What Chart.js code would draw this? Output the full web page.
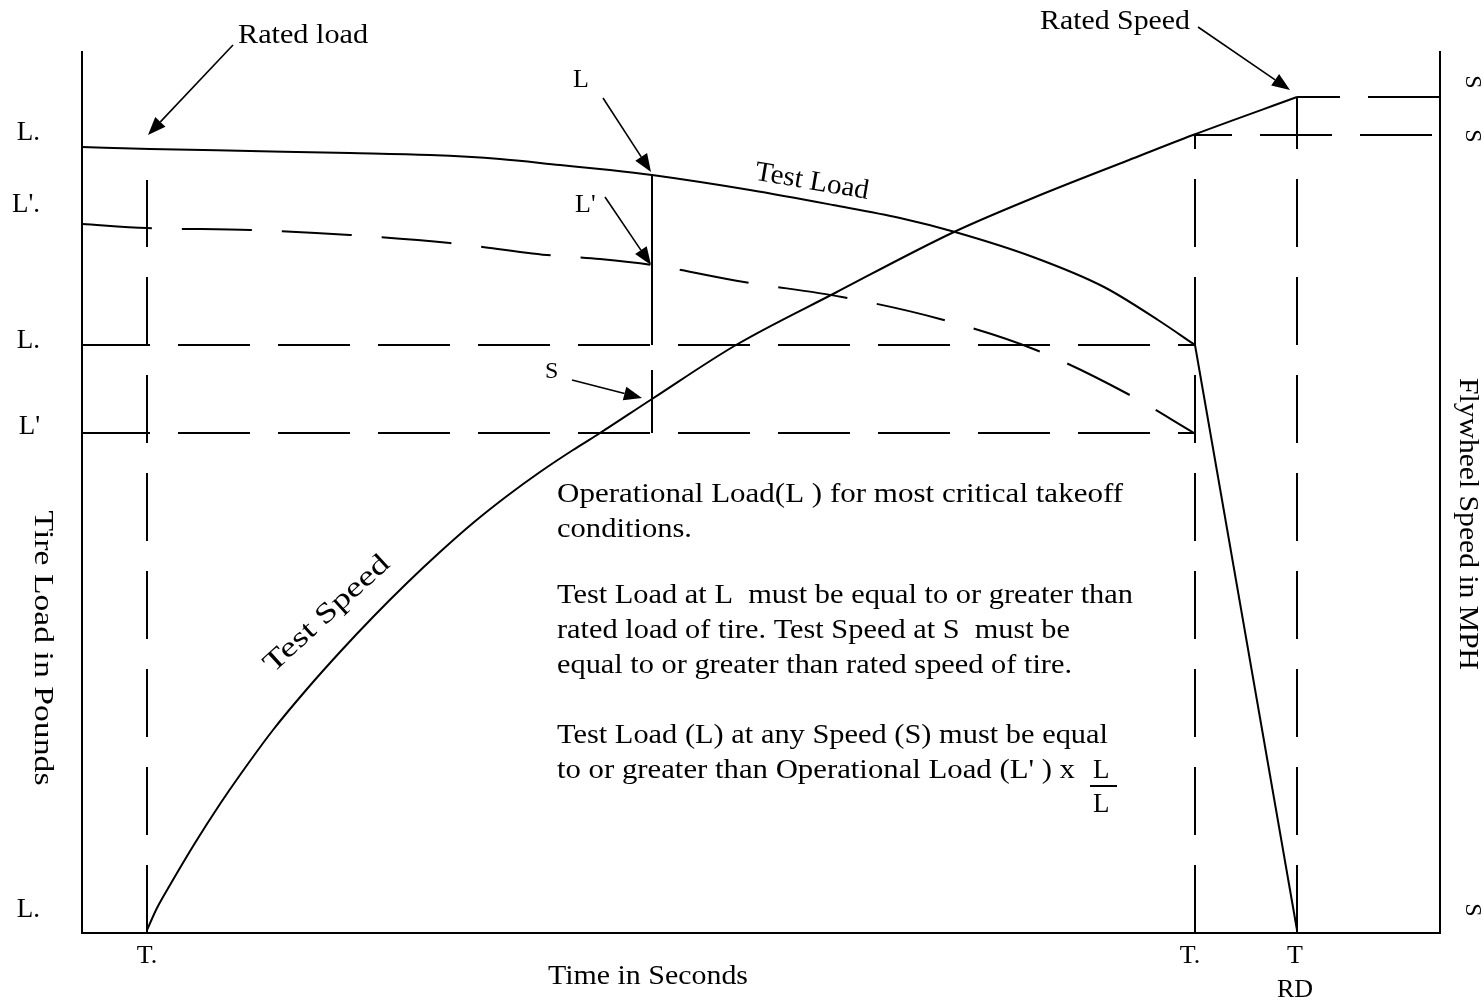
<!DOCTYPE html>
<html><head><meta charset="utf-8">
<script src="https://cdn.jsdelivr.net/npm/chart.js@4.4.1/dist/chart.umd.min.js"></script>
<style>html,body{margin:0;padding:0;background:#fff;}canvas{display:block;}</style>
</head><body>
<canvas id="c" width="1484" height="1005"></canvas>
<script>
// ---- data (time units along x, load / speed units along y) ----
const timeMax = 1358;
const valueMax = 881;

const testLoadTime  = [0, 68, 168, 268, 348, 418, 478, 528, 570, 668, 751, 818, 873, 951, 1022, 1076, 1113];
const testLoadValue = [786, 784, 782, 780, 778, 774, 768, 763, 758, 743, 728, 715, 701, 676, 646, 613, 588];
const dropTime  = [1113, 1215];
const dropValue = [588, 3];

const opLoadTime  = [0, 65, 168, 268, 368, 465, 518, 570, 662, 760, 858, 954, 1044, 1112];
const opLoadValue = [709, 705, 703, 698, 690, 678, 674, 668, 651, 636, 614, 583, 540, 500];

const testSpeedTime  = [65, 75, 88, 113, 138, 158, 191, 225, 258, 291, 325, 358, 391, 425, 458, 491, 515, 570, 654, 753, 872, 951, 1047, 1111, 1215];
const testSpeedValue = [3, 25, 48, 90, 129, 158, 203, 244, 281, 316, 350, 381, 410, 437, 461, 483, 498, 534, 588, 640, 701, 735, 773, 798, 836];

const tStart = 65, tEnd = 1113, tRD = 1215, tCheck = 570;
const loadL = 588, loadLp = 500, loadAtCheck = 758, speedAtCheckTop = 563;
const speedRated = 836, speedEnd = 798;

const loadTickValues = [800, 728, 592, 506, 23];
const loadTickLabels = ['L.', "L'.", 'L.', "L'", 'L.'];
const timeTickValues = [65, 1108, 1213];
const timeTickLabels = ['T.', 'T.', ['T', 'RD']];
const speedTickValues = [851, 797, 23];
const speedTickLabels = ['S', 'S', 'S'];

// arrows: [fromTime, fromValue, toTime, toValue]
const arrowRatedLoad  = [151, 888, 66, 798];
const arrowL          = [521, 835, 569, 761];
const arrowLp         = [523, 736, 569, 668];
const arrowS          = [490, 553, 560, 535];
const arrowRatedSpeed = [1116, 906, 1208, 843];

const pts = (xs, ys) => xs.map((x, i) => ({x: x, y: ys[i]}));
const FONT = '"Liberation Serif", "DejaVu Serif", serif';

const base = {showLine: true, pointRadius: 0, borderColor: '#000', borderWidth: 2, fill: false, tension: 0, yAxisID: 'y'};
const dashV = [68, 30];
const dashH = [72, 28];

const datasets = [
  Object.assign({}, base, {label: 'Test Load', data: pts(testLoadTime, testLoadValue), cubicInterpolationMode: 'monotone'}),
  Object.assign({}, base, {label: 'Test Load drop', data: pts(dropTime, dropValue)}),
  Object.assign({}, base, {label: 'Operational Load', data: pts(opLoadTime, opLoadValue), cubicInterpolationMode: 'monotone', borderDash: [70, 30]}),
  Object.assign({}, base, {label: 'Test Speed', data: pts(testSpeedTime, testSpeedValue), cubicInterpolationMode: 'monotone', yAxisID: 'y2'}),
  Object.assign({}, base, {label: 'T start', data: pts([tStart, tStart], [0, 753]), borderDash: dashV}),
  Object.assign({}, base, {label: 'T end', data: pts([tEnd, tEnd], [0, speedEnd]), borderDash: dashV}),
  Object.assign({}, base, {label: 'T RD', data: pts([tRD, tRD], [0, speedRated]), borderDash: dashV}),
  Object.assign({}, base, {label: 'L', data: pts([0, tEnd], [loadL, loadL]), borderDash: dashH, borderDashOffset: 4}),
  Object.assign({}, base, {label: "L'", data: pts([0, tEnd], [loadLp, loadLp]), borderDash: dashH, borderDashOffset: 4}),
  Object.assign({}, base, {label: 'S rated', data: pts([tRD, timeMax], [speedRated, speedRated]), borderDash: dashH, borderDashOffset: 29, yAxisID: 'y2'}),
  Object.assign({}, base, {label: 'S end', data: pts([tEnd, timeMax], [speedEnd, speedEnd]), borderDash: dashH, borderDashOffset: 35, yAxisID: 'y2'}),
  Object.assign({}, base, {label: 'check L', data: pts([tCheck, tCheck], [loadL, loadAtCheck])}),
  Object.assign({}, base, {label: 'check S', data: pts([tCheck, tCheck], [loadLp, speedAtCheckTop])})
];

const annot = {
  id: 'annot',
  afterDraw(chart) {
    const ctx = chart.ctx, sx = chart.scales.x, sy = chart.scales.y, sy2 = chart.scales.y2;
    ctx.save();
    ctx.fillStyle = '#000'; ctx.strokeStyle = '#000';
    [arrowRatedLoad, arrowL, arrowLp, arrowS, arrowRatedSpeed].forEach(a => {
      const x1 = sx.getPixelForValue(a[0]), y1 = sy.getPixelForValue(a[1]);
      const x2 = sx.getPixelForValue(a[2]), y2 = sy.getPixelForValue(a[3]);
      const ang = Math.atan2(y2 - y1, x2 - x1), L = 18, W = 7;
      const bx = x2 - L * Math.cos(ang), by = y2 - L * Math.sin(ang);
      ctx.lineWidth = 1.6;
      ctx.beginPath(); ctx.moveTo(x1, y1); ctx.lineTo(bx, by); ctx.stroke();
      ctx.beginPath(); ctx.moveTo(x2, y2);
      ctx.lineTo(bx + W * Math.sin(ang), by - W * Math.cos(ang));
      ctx.lineTo(bx - W * Math.sin(ang), by + W * Math.cos(ang));
      ctx.closePath(); ctx.fill();
    });
    // text helper; tw = target width (horizontal stretch to match the original lettering)
    const txt = (s, x, y, size, align, rot, tw) => {
      ctx.save();
      ctx.font = size + 'px ' + FONT;
      ctx.textAlign = align || 'left';
      ctx.textBaseline = rot !== undefined ? 'middle' : 'alphabetic';
      ctx.translate(x, y);
      if (rot) ctx.rotate(rot);
      if (tw) { const w = ctx.measureText(s).width; ctx.scale(tw / w, 1); }
      ctx.fillText(s, 0, 0);
      ctx.restore();
    };
    txt('Rated load', 238, 43, 28, 'left', undefined, 130);
    txt('Rated Speed', 1040, 29, 28, 'left', undefined, 150);
    txt('L', 573, 87, 26);
    txt("L'", 575, 212, 26);
    txt('S', 545, 378, 24);
    txt('Test Load', 812, 182, 28, 'center', 0.17, 115);
    txt('Test Speed', 327, 614, 28, 'center', -0.74, 160);
    const para = [
      ['Operational Load(L ) for most critical takeoff', 502, 566],
      ['conditions.', 537, 135],
      ['Test Load at L  must be equal to or greater than', 603, 576],
      ['rated load of tire. Test Speed at S  must be', 638, 513],
      ['equal to or greater than rated speed of tire.', 673, 515],
      ['Test Load (L) at any Speed (S) must be equal', 743, 551],
      ["to or greater than Operational Load (L' ) x", 778, 518]
    ];
    para.forEach(p => txt(p[0], 557, p[1], 27, 'left', undefined, p[2]));
    txt('L', 1093, 778, 27);
    txt('L', 1093, 812, 27);
    ctx.lineWidth = 2; ctx.beginPath(); ctx.moveTo(1090, 786); ctx.lineTo(1117, 786); ctx.stroke();
    txt('Time in Seconds', 648, 984, 28, 'center', undefined, 200);
    txt('Tire Load in Pounds', 42, 648, 27, 'center', Math.PI / 2, 275);
    txt('Flywheel Speed in MPH', 1467, 524, 27, 'center', Math.PI / 2, 292);
    sy2.ticks.forEach((t, i) => {
      txt(speedTickLabels[i], 1472, sy2.getPixelForValue(t.value), 24, 'center', Math.PI / 2);
    });
    ctx.restore();
  }
};

const noPad = s => { s.paddingTop = 0; s.paddingBottom = 0; s.paddingLeft = 0; s.paddingRight = 0; };

new Chart(document.getElementById('c'), {
  type: 'scatter',
  data: {datasets: datasets},
  plugins: [annot],
  options: {
    responsive: false, animation: false, devicePixelRatio: 1,
    layout: {padding: {top: 52, left: 0, right: 0, bottom: 0}},
    plugins: {legend: {display: false}, tooltip: {enabled: false}},
    scales: {
      x: {
        type: 'linear', position: 'bottom', min: 0, max: timeMax,
        grid: {display: false, drawTicks: false},
        border: {display: true, color: '#000', width: 2},
        afterBuildTicks: s => { s.ticks = timeTickValues.map(v => ({value: v})); },
        afterFit: s => { s.height = 72; noPad(s); },
        ticks: {autoSkip: false, maxRotation: 0, minRotation: 0, padding: 6, color: '#000',
          font: {family: FONT, size: 26, lineHeight: 1.3},
          callback: (v, i) => timeTickLabels[i]}
      },
      y: {
        type: 'linear', position: 'left', min: 0, max: valueMax,
        grid: {display: false, drawTicks: false},
        border: {display: true, color: '#000', width: 2},
        afterBuildTicks: s => { s.ticks = loadTickValues.map(v => ({value: v})); },
        afterFit: s => { s.width = 82; noPad(s); },
        ticks: {autoSkip: false, padding: 42, color: '#000', font: {family: FONT, size: 27},
          callback: (v, i) => loadTickLabels[i]}
      },
      y2: {
        type: 'linear', position: 'right', min: 0, max: valueMax,
        grid: {display: false, drawTicks: false},
        border: {display: true, color: '#000', width: 2},
        afterBuildTicks: s => { s.ticks = speedTickValues.map(v => ({value: v})); },
        afterFit: s => { s.width = 44; noPad(s); },
        ticks: {display: false}
      }
    }
  }
});
</script>
</body></html>
